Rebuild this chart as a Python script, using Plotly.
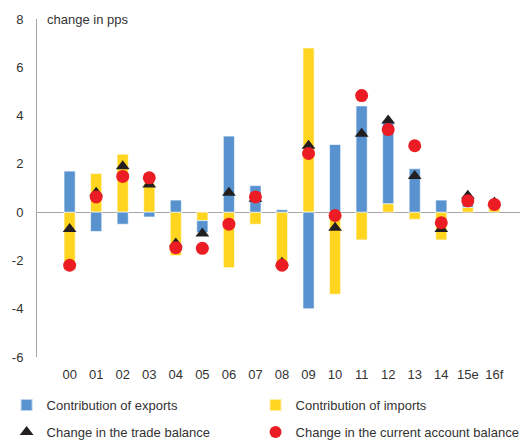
import plotly.graph_objects as go

years = ["00", "01", "02", "03", "04", "05", "06", "07", "08", "09",
         "10", "11", "12", "13", "14", "15e", "16f"]
exports = [1.7, -0.8, -0.5, -0.2, 0.5, -0.5, 3.15, 1.1, 0.1, -4.0,
           2.8, 4.4, 3.4, 1.8, 0.5, 0.45, 0.1]
imports = [-2.4, 1.6, 2.4, 1.2, -1.8, -0.35, -2.3, -0.5, -2.2, 6.8,
           -3.4, -1.15, 0.35, -0.3, -1.15, 0.2, 0.2]
trade_balance = [-0.7, 0.8, 1.9, 1.15, -1.3, -0.88, 0.8, 0.55, -2.1, 2.75,
                 -0.65, 3.25, 3.8, 1.5, -0.7, 0.68, 0.4]
current_account = [-2.2, 0.63, 1.48, 1.42, -1.47, -1.5, -0.5, 0.63, -2.2, 2.43,
                   -0.14, 4.83, 3.42, 2.75, -0.44, 0.47, 0.32]
y_tick_values = [-6, -4, -2, 0, 2, 4, 6, 8]
y_tick_labels = ["-6", "-4", "-2", "0", "2", "4", "6", "8"]

BLUE = "#5893D0"
YELLOW = "#FFD520"
RED = "#EC1C24"
BLACK = "#231F20"
TXT = "#333333"
FONT = "Liberation Sans, Arial, sans-serif"

fig = go.Figure()
fig.add_trace(go.Bar(x=years, y=imports, name="Contribution of imports",
                     marker=dict(color=YELLOW, line=dict(color="rgba(255,255,255,0.6)", width=1)),
                     legend="legend2"))
fig.add_trace(go.Bar(x=years, y=exports, name="Contribution of exports",
                     marker=dict(color=BLUE, line=dict(color="rgba(255,255,255,0.6)", width=1)),
                     legend="legend"))
fig.add_trace(go.Scatter(x=years, y=trade_balance, mode="markers",
                         name="Change in the trade balance",
                         marker=dict(symbol="triangle-up", size=12, color=BLACK),
                         legend="legend3"))
fig.add_trace(go.Scatter(x=years, y=current_account, mode="markers",
                         name="Change in the current account balance",
                         marker=dict(symbol="circle", size=13, color=RED),
                         legend="legend4"))

legend_common = dict(orientation="h", xanchor="left", yanchor="middle",
                     font=dict(family=FONT, size=13, color=TXT),
                     bgcolor="rgba(0,0,0,0)", itemsizing="constant")
col1, col2 = -0.062, 0.446
row1, row2 = -0.142, -0.222

# the page body adds an 8px margin, so the figure is sized to fit the 528x446 window
fig.update_layout(
    width=520, height=438,
    margin=dict(l=29, r=1, t=11, b=89, autoexpand=False),
    paper_bgcolor="white", plot_bgcolor="white",
    barmode="relative", bargap=0.58,
    showlegend=True,
    font=dict(family=FONT, size=13, color=TXT),
    legend=dict(**legend_common, x=col1, y=row1),
    legend2=dict(**legend_common, x=col2, y=row1),
    legend3=dict(**legend_common, x=col1, y=row2),
    legend4=dict(**legend_common, x=col2, y=row2),
    xaxis=dict(showgrid=False, zeroline=False, showline=False, ticks="",
               automargin=False,
               tickfont=dict(size=13, color=TXT), ticklabelstandoff=8),
    yaxis=dict(range=[-6, 8], tickmode="array", tickvals=y_tick_values,
               ticktext=y_tick_labels, showgrid=False, zeroline=True,
               automargin=False,
               zerolinecolor="#A6A6A6", zerolinewidth=1,
               showline=True, linecolor="#A6A6A6", linewidth=1, ticks="",
               tickfont=dict(size=13, color=TXT), ticklabelstandoff=10),
    annotations=[dict(text="change in pps", xref="paper", yref="paper",
                      x=0.016, y=1.0, xanchor="left", yanchor="middle",
                      showarrow=False, font=dict(size=13, color=TXT))],
)

fig.write_html("out.html")
